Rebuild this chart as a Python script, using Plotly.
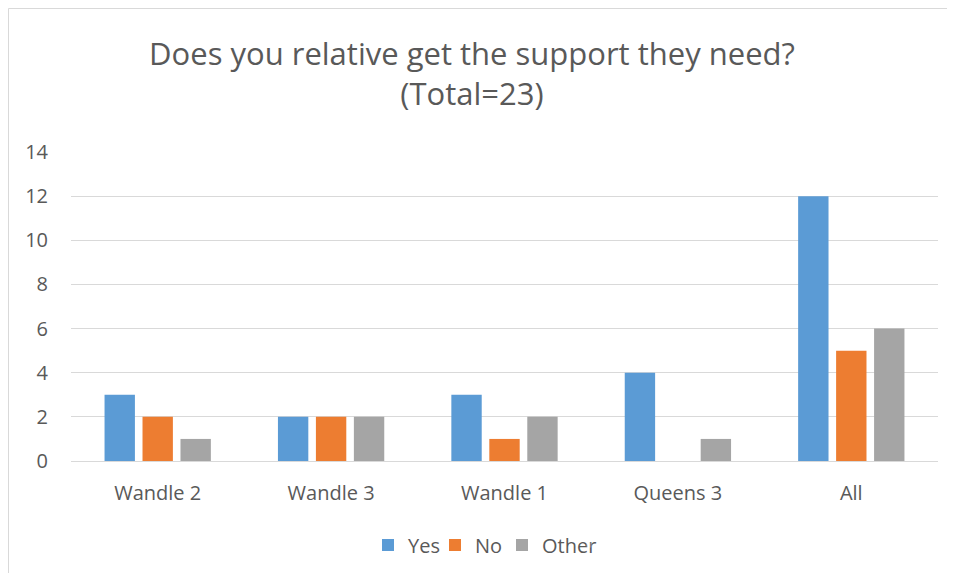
import plotly.graph_objects as go

categories = ["Wandle 2", "Wandle 3", "Wandle 1", "Queens 3", "All"]
yes_vals = [3, 2, 3, 4, 12]
no_vals = [2, 2, 1, 0, 5]
other_vals = [1, 2, 2, 1, 6]
y_ticks = [0, 2, 4, 6, 8, 10, 12, 14]

OFF = 8  # page body margin
W, H = 955 - OFF - 2, 575 - OFF - 2
L, R, T, B = 71 - OFF, 938 - OFF, 152 - OFF, 461 - OFF

fig = go.Figure()
for name, vals, col in [("Yes", yes_vals, "#5B9BD5"), ("No", no_vals, "#ED7D31"), ("Other", other_vals, "#A5A5A5")]:
    fig.add_trace(go.Bar(x=categories, y=vals, name=name, marker=dict(color=col, line=dict(width=0))))
# empty spacer legend entry so the last legend label is not clipped
fig.add_trace(go.Scatter(x=[None], y=[None], mode="markers", name=" ",
                         marker=dict(opacity=0, color="white"), hoverinfo="skip", showlegend=True))

pw = R - L
ph = B - T
def px(x):
    return (x - OFF - L) / pw
def py(y):
    return (B - (y - OFF)) / ph

fig.update_layout(
    width=W, height=H,
    margin=dict(l=L, r=W - R, t=T, b=H - B, autoexpand=False),
    paper_bgcolor="white", plot_bgcolor="white",
    font=dict(family="Open Sans", color="#595959", size=20),
    barmode="group", bargap=0.343, bargroupgap=0.2,
    title=dict(text="Does you relative get the support they need?<br>(Total=23)",
               x=(472 - OFF) / W, xanchor="center", y=1 - 57 / H, yanchor="top",
               font=dict(size=31, color="#595959", family="Open Sans")),
    legend=dict(orientation="h", x=px(368), xanchor="left", y=py(545), yanchor="middle",
                font=dict(size=20, color="#595959"), itemwidth=30, traceorder="normal",
                entrywidth=22, entrywidthmode="pixels"),
    xaxis=dict(showgrid=False, showline=True, linecolor="#D9D9D9", linewidth=1,
               ticks="", tickfont=dict(size=20, color="#595959"), ticklabelstandoff=14),
    yaxis=dict(range=[0, 14], tickvals=y_ticks, showgrid=True, gridcolor="#D9D9D9", gridwidth=1,
               zeroline=False, ticks="", tickfont=dict(size=20, color="#595959"), ticklabelstandoff=22),
    shapes=[dict(type="rect", xref="paper", yref="paper",
                 x0=px(8.5), x1=px(1010), y0=py(600), y1=py(8.5),
                 line=dict(color="#D9D9D9", width=1), fillcolor="rgba(0,0,0,0)", layer="below")],
)

fig.write_html("out.html")
